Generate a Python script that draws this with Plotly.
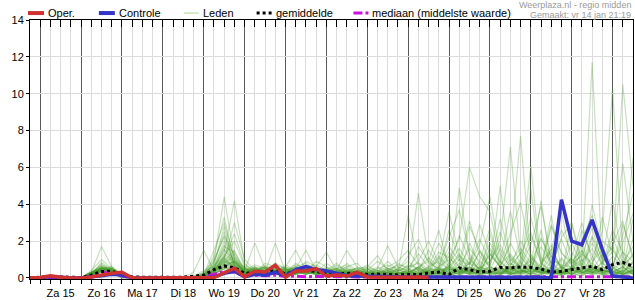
import plotly.graph_objects as go

# time axis: hours since vr 14 jan 18:00, 6-hourly steps
hours = list(range(0, 355, 6))
day_labels = ["Za 15", "Zo 16", "Ma 17", "Di 18", "Wo 19", "Do 20", "Vr 21",
              "Za 22", "Zo 23", "Ma 24", "Di 25", "Wo 26", "Do 27", "Vr 28"]
label_hours = [18 + 24 * k for k in range(len(day_labels))]

# layout of each series: i0 | Za15 | Zo16 | Ma17 | Di18 | Wo19 | Do20 | Vr21 | Za22 | Zo23 | Ma24 | Di25 | Wo26 | Do27 | Vr28 | Za29(3)
oper = [0, .02, .12, .03, 0, 0, .05, .15, .25, .3, 0, 0, 0, 0, 0, 0, 0,
        0, .02, .28, .52, .06, .36, .32, .68, .04, .37, .38, .5, .1, .15, .1, .3,
        .05, .04, .03, .04, .03, .05, .02]

controle = [0, 0, .08, .02, 0, 0, .05, .12, .2, .15, 0, 0, 0, 0, 0, 0, 0,
            0, .05, .25, .36, .05, .2, .15, .3, .1, .45, .62, .45, .38, .25, .12, .1,
            .08, .07, .06, .06, .05, .05, .04, .03, .03, .03, .04, .03, .03, .04, .03, .03,
            .04, .03, 0, 4.25, 2.0, 1.8, 3.15, 1.55, .1, .05, 0]

gemiddelde = [0, .02, .08, .05, .03, .02, .15, .35, .36, .2, .05, .04, .05, .03, .03, .04, .1,
              .15, .45, .65, .55, .25, .28, .3, .4, .22, .35, .4, .35, .25, .2, .25, .25,
              .18, .21, .18, .16, .18, .18, .27, .32, .18, .54, .45, .32, .36, .57, .54, .59,
              .57, .48, .32, .36, .45, .54, .63, .45, .72, .84, .63]

mediaan = [0, 0, .03, 0, 0, 0, .1, .28, .3, .1, 0, 0, 0, 0, 0, 0, 0,
           .05, .2, .35, .3, .12, .15, .12, .15, .08, .1, .06, .08, .06, .05, .06, .05,
           .04, .05, .04, .05, .05, .06, .05, .07, .06, .08, .07, .06, .07, .08, .06, .07,
           .08, .07, .06, .07, .08, .07, .06, .07, .08, .07, .06]

leden = [
    [0, 0, .1, 0, 0, 0, .3, 1.7, .6, .1, 0, 0, 0, 0, 0, 0, 0, .1, .9, 4.4, 1.1, .2, .5, .3, .6, .2, .4, .5, .3, .1, .2, .1, .3, .1, 0, 0, .1, .2, .6, .3, .1, .4, .2, .9, .5, .2, .1, .6, .3, 1.1, .4, .2, .3, .5, 1.8, .6, .2, .1, .3, .9],
    [0, 0, .05, 0, 0, 0, .4, 1.0, .5, .1, 0, 0, 0, 0, 0, 0, 0, .3, .6, 2.0, .8, .4, .3, .6, .4, .1, .5, .3, .2, .2, .4, .3, .1, 0, .1, .2, 0, .1, .3, .1, .5, .2, .8, .3, .1, 0, .4, 1.2, .5, .3, .1, .6, 2.1, .7, .3, .2, .1, .5, 1.4, .4],
    [0, 0, .1, .05, 0, 0, .2, .85, .4, .1, 0, 0, .05, 0, 0, 0, 0, .1, .4, 1.2, 2.0, .6, .2, .4, .3, .5, .2, .6, .4, .2, .1, .3, .2, .1, 0, 0, .2, .5, .1, 0, .2, .6, 1.3, .4, .2, 1.5, .6, .2, .9, .3, .6, 1.8, .4, .2, .1, .5, .3, 0, .2, .1],
    [0, 0, .05, 0, 0, 0, .2, .75, .3, 0, 0, 0, 0, 0, 0, 0, .1, .2, .5, 1.0, .6, .3, .6, .2, .5, .3, .6, .2, .5, .1, .3, .5, .2, .3, .2, .1, 0, 0, .2, .4, .1, .8, .3, 1.9, .7, .2, .9, .3, .1, 0, .5, .2, .1, .4, 2.6, 1.2, .3, .2, .4, .6],
    [0, 0, 0, 0, 0, 0, .3, .6, .4, .1, 0, 0, 0, 0, 0, 0, 0, 0, .3, .8, 1.3, .2, .4, .5, .2, .6, .3, .2, .4, .2, 0, .1, .3, .2, .1, 0, 0, .1, 0, .2, .3, .1, .5, .2, .4, .3, .1, .8, .4, .2, .3, .1, .5, 1.0, .6, 4.0, 1.5, .3, .2, .4],
    [0, 0, .1, 0, 0, 0, .1, .6, .5, .2, 0, 0, 0, 0, 0, 0, 0, 0, .2, .6, .9, .4, .2, .3, .8, .2, .3, .7, .4, .3, .2, 0, .1, 0, .2, .4, .1, 0, .1, 0, .4, 1.2, .3, .2, .6, .4, 1.6, .5, .2, .8, .3, .2, 1.0, .3, .1, .4, .8, 1.7, .6, .2],
    [0, 0, 0, .05, 0, 0, .2, .5, .3, 0, .05, 0, 0, 0, 0, 0, .3, 1.5, .4, .6, .3, .1, .3, .2, .4, .3, .2, .3, .2, .4, .2, .1, .2, 0, .1, .3, .2, .1, .4, .1, 0, .2, .1, .4, .2, .6, .3, .2, .4, .1, .2, .9, .3, .2, .5, .3, .6, .2, .1, .3],
    [0, 0, .05, 0, 0, 0, .3, .5, .4, .1, 0, 0, 0, 0, 0, 0, 0, .1, 1.2, 3.3, .9, .3, .4, .2, .3, .4, .6, .3, .2, .1, .2, .3, .1, .2, 0, .1, .3, .2, .1, .5, .2, .1, .3, .2, .1, .5, .2, .3, .6, .4, 2.2, .8, .3, .1, .3, .2, .9, 1.4, 6.2, 2.0],
    [0, 0, .1, 0, 0, 0, .2, .45, .5, .1, 0, 0, 0, 0, 0, 0, 0, .2, .7, 2.8, .6, .5, .3, .6, .2, .3, .4, .2, .5, .3, .1, .2, .4, .1, .3, .2, 0, .1, .2, .3, 1.1, .4, .2, .6, .3, 2.4, .5, .3, .2, .6, .3, .2, .4, .9, .3, .5, .2, .1, .4, .8],
    [0, 0, 0, 0, 0, 0, .2, .4, .3, .05, 0, 0, 0, 0, 0, 0, 0, 0, .5, 1.5, 1.0, .3, .2, .4, .3, .2, .3, .4, .3, .2, .3, .2, .1, .3, .1, 0, .2, .4, .2, .1, .3, .1, .6, .3, .2, .3, .4, .2, .1, .5, .3, 1.2, .6, .2, .4, 1.1, 2.5, 10.3, 1.2, .3],
    [0, 0, .05, 0, 0, 0, .3, .5, .6, .2, 0, 0, 0, 0, 0, 0, .1, .4, .6, 1.4, 4.2, .8, .3, .2, .4, .3, .2, .5, .6, .3, .2, .4, .2, .1, .2, .1, .3, .2, .5, .2, .1, .3, .2, 1.1, .4, .2, .3, .4, 1.4, .6, .2, .3, .1, .4, .2, .6, .3, .2, .5, 1.3],
    [0, 0, .05, 0, 0, 0, .25, .55, .35, .1, 0, 0, 0, 0, 0, 0, 0, .2, .3, 1.0, 3.0, 1.0, .4, .5, .2, .4, .3, .2, .4, .5, .3, .2, .1, 0, .2, .3, .2, .3, .6, .2, .3, .2, .5, .2, .9, .4, .2, .6, .3, .7, .3, .4, .2, .6, 1.0, .3, .4, .3, .6, .2],
    [0, 0, .1, 0, 0, 0, .3, .6, .3, .1, 0, 0, 0, 0, 0, 0, 0, .1, .4, .9, .7, .4, 1.9, .5, .3, .2, .4, .3, .5, .2, .4, .3, .2, .1, 0, .2, .1, .2, .1, .3, .2, .7, .2, .4, .1, .3, .5, .2, .4, .2, .6, .3, 1.1, .5, .2, .7, .3, 1.2, 10.5, 5.0],
    [0, 0, 0, 0, 0, 0, .2, .5, .4, .1, .05, 0, 0, 0, 0, 0, 0, .2, .5, 1.1, .5, .2, .4, .3, 1.9, .3, .2, .6, .3, .4, .2, .1, .3, .2, .1, 0, 0, .1, .3, .2, .5, .3, 1.0, .2, .4, .6, .3, .5, .2, 1.3, .4, .2, .3, .5, .3, 2.2, .6, .4, .2, .3],
    [0, 0, .05, 0, 0, 0, .1, .35, .45, .1, 0, 0, 0, 0, 0, 0, 0, 0, .2, .7, .9, .3, .5, .4, .3, .6, 1.5, .4, .2, .3, .5, .2, .1, .3, .2, .1, .2, 0, .2, .1, .3, .5, .4, .3, .2, .4, .2, 1.0, .5, .2, .8, .3, .2, 3.0, .5, .3, .2, .4, .2, .5],
    [0, 0, .1, 0, 0, 0, .2, .4, .5, .1, 0, 0, 0, 0, 0, 0, 0, .1, .3, .8, 1.1, .5, .3, .6, .4, .2, .5, 1.5, .4, .2, .1, .3, .2, .1, .3, .2, 0, .3, .1, .2, .1, .2, .1, .6, .3, .2, .3, .4, .8, .3, 2.6, .4, .2, .6, .3, .4, 1.3, .2, .3, .6],
    [0, 0, 0, 0, 0, 0, .15, .4, .3, 0, 0, 0, 0, 0, 0, 0, 0, 0, .4, 1.0, .6, .2, .6, .2, .5, .4, .3, .5, .6, 1.4, .4, .2, .3, .2, .1, .3, .2, .4, .2, .6, .3, .1, .4, .2, .3, 1.3, .6, .2, .3, .1, .2, .5, .4, .3, .6, .2, .4, .7, .4, 3.2],
    [0, 0, .05, 0, 0, 0, .3, .45, .5, .15, 0, 0, 0, 0, 0, 0, 0, .2, .4, .9, 1.5, .3, .2, .4, .6, .4, .2, .3, .5, .3, .4, 1.5, .6, .3, .2, .1, .3, .2, .4, .3, .2, .5, .3, .8, .2, .3, .2, .4, .6, .9, .4, .3, .2, .3, 1.5, .3, .2, .5, .3, .8],
    [0, 0, .1, 0, 0, 0, .25, .5, .35, .1, 0, 0, 0, 0, 0, 0, 0, .1, .3, 1.2, .8, .4, .5, .3, .2, .3, .4, .2, .3, .2, .3, .4, .5, .6, 1.2, .4, .2, .3, .5, .2, .6, .3, .2, .5, .4, .2, .6, .3, .2, .4, .3, 1.6, .5, .2, .4, .3, .6, 2.2, .8, .3],
    [0, 0, .05, 0, 0, 0, .2, .3, .4, .1, 0, 0, 0, 0, 0, 0, 0, 0, .2, .5, .7, .3, .2, .5, .3, .2, .4, .3, .2, .1, .2, .4, .3, .2, .5, 1.74, .6, .3, .2, .4, .3, .4, .6, .3, 1.5, .5, .3, .2, .4, .2, .5, .3, .4, 1.1, .3, .2, .4, .3, .2, .4],
    [0, 0, 0, 0, 0, 0, .1, .35, .3, .05, 0, 0, 0, 0, 0, 0, 0, .1, .5, 1.6, .6, .2, .3, .4, .2, .3, .2, .4, .3, .2, .1, .2, .4, .3, .2, .4, .3, 3.4, .8, .3, .5, .2, 4.9, 1.2, .4, .3, .5, .2, .3, .5, .2, .4, .3, .2, .5, .4, .3, .6, .2, .4],
    [0, 0, .05, 0, 0, 0, .2, .4, .45, .1, 0, 0, 0, 0, 0, 0, 0, .1, .2, .6, .8, .5, .3, .2, .4, .3, .6, .3, .4, .2, .3, .2, .1, .2, .3, .5, .4, .6, 4.6, 1.0, .3, .2, .4, .3, .6, .4, .2, .5, .3, 4.85, .6, .3, .2, .5, .2, .3, .6, .4, .3, .2],
    [0, 0, .1, 0, 0, 0, .2, .45, .3, .1, 0, 0, 0, 0, 0, 0, 0, 0, .3, .9, .5, .2, .4, .6, .3, .5, .3, .4, .2, .3, .6, .3, .2, .4, .2, .3, .5, .2, .6, .9, 2.6, .5, .3, .4, .2, .3, .2, .6, .4, .3, .5, .2, .6, .4, .8, .3, .2, .6, .3, .9],
    [0, 0, .05, 0, 0, 0, .3, .4, .35, .1, 0, 0, 0, 0, 0, 0, 0, .1, .4, .8, .6, .3, .2, .4, .5, .2, .3, .6, .4, .5, .2, .3, .4, .3, .1, .2, .4, .5, .3, .6, .9, 3.6, 1.2, .4, .3, .6, .4, .3, .5, .2, .4, .6, .3, .5, .9, 11.7, .8, .3, .2, .4],
    [0, 0, .1, 0, 0, 0, .2, .3, .4, .1, 0, 0, 0, 0, 0, 0, 0, .2, .3, .7, .5, .3, .4, .2, .3, .4, .5, .3, .2, .2, .3, .5, .3, .4, .2, .3, .1, .3, .5, .4, .6, 1.0, 2.1, 6.0, 4.4, 3.6, .9, .4, .3, .4, .3, .5, .2, .6, .4, .3, .5, .2, .4, .3],
    [0, 0, 0, 0, 0, 0, .15, .3, .35, .05, 0, 0, 0, 0, 0, 0, 0, 0, .2, .6, .4, .2, .3, .5, .3, .2, .4, .3, .5, .3, .2, .4, .2, .3, .4, .2, .3, .2, .3, .5, .4, .6, .3, .8, .5, .9, 2.0, 7.1, 1.2, .5, .3, .4, .2, .6, .3, .5, .4, .3, .2, .5],
    [0, 0, .05, 0, 0, 0, .25, .35, .3, .1, 0, 0, 0, 0, 0, 0, 0, .1, .2, .5, .6, .3, .2, .3, .5, .4, .3, .2, .4, .2, .4, .3, .5, .2, .3, .4, .2, .4, .2, .3, .5, .3, .6, .4, 1.4, .6, 5.0, .8, .4, .3, .6, 3.4, .5, .2, .4, .6, .3, .5, .3, .4],
    [0, 0, .1, 0, 0, 0, .3, .4, .25, .1, 0, 0, 0, 0, 0, 0, 0, 0, .4, 1.1, .7, .4, .3, .2, .4, .3, .2, .5, .3, .4, .3, .2, .3, .5, .2, .3, .4, .3, .6, .2, .4, .5, .3, .6, .4, 1.3, .6, 1.8, 7.7, .9, .4, .3, .6, .3, .5, .8, .4, .3, .6, .2],
    [0, 0, .05, 0, 0, 0, .2, .5, .3, .1, 0, 0, 0, 0, 0, 0, 0, .1, .3, .7, .9, .2, .5, .3, .2, .5, .3, .4, .3, .3, .5, .2, .4, .3, .2, .5, .3, .2, .4, .3, .5, .4, .2, .5, .3, .4, .6, .3, 1.0, 6.1, .8, .4, .3, .2, .6, .4, .3, .5, .8, .6],
    [0, 0, .05, 0, 0, 0, .2, .35, .4, .1, 0, 0, 0, 0, 0, 0, 0, 0, .2, .5, .4, .3, .2, .4, .3, .2, .3, .4, .2, .3, .2, .4, .3, .2, .4, .3, .2, .3, .2, .4, .3, .6, .4, .3, .5, .3, .4, .5, .3, .6, 4.2, .5, .3, .4, .3, .5, .4, .3, .6, 6.5],
    [0, 0, .05, 0, 0, 0, .2, .55, .4, .1, 0, 0, 0, 0, 0, 0, 0, .1, .6, 1.8, .7, .3, .5, .2, .4, .3, .2, .6, .5, .4, .8, .3, .2, .5, .3, .9, .4, 1.2, 2.1, .8, .5, 1.4, .6, 2.8, 1.5, .7, 3.2, 1.1, .6, 2.3, .9, 1.5, 3.6, .8, 1.2, 2.7, .9, 1.8, 3.1, 1.0],
    [0, 0, .1, 0, 0, 0, .3, .65, .35, .1, 0, 0, 0, 0, 0, 0, 0, .2, .9, 2.3, 1.2, .5, .3, .7, .4, .2, .8, .4, .3, .5, .3, .6, .8, .3, .6, .2, .5, .9, .4, 1.5, .7, 2.2, 3.7, 1.3, .6, 1.9, .8, 2.4, 4.1, 1.2, .6, 2.9, 1.4, .7, 2.0, 3.4, 1.1, .6, 2.3, 4.6],
    [0, 0, .05, 0, 0, 0, .15, .45, .5, .15, 0, 0, 0, 0, 0, 0, 0, .1, .4, 1.3, .9, .6, .4, .3, .7, .5, .3, .9, .6, .2, .5, .7, .3, .6, .4, .3, .8, .5, 1.3, .6, 1.9, .8, 1.6, .7, 2.9, 1.3, .6, 1.9, .8, 3.3, 1.1, .6, 2.2, 3.0, .9, 1.6, .7, 2.6, 1.4, .9],
    [0, 0, .1, 0, 0, 0, .25, .5, .3, .1, 0, 0, 0, 0, 0, 0, .05, .3, 1.0, 2.2, .8, .4, .7, .5, .3, .6, .4, .3, .9, .6, .3, .2, .6, .4, .9, .5, .3, .7, .5, 1.1, .6, 1.7, .9, 3.1, 1.2, .6, 2.5, .9, 1.6, .8, 2.1, 1.2, .5, 1.9, .7, 2.3, 1.0, 4.2, .8, 1.7],
    [0, 0, .05, 0, 0, 0, .2, .4, .45, .1, 0, 0, 0, 0, 0, 0, 0, 0, .5, 1.7, 1.4, .5, .3, .8, .6, .4, .7, .5, .3, .8, .4, .6, .2, .3, .5, .7, .4, .3, 1.7, .9, .5, 2.6, 1.0, .7, 1.8, 4.4, 1.3, .6, 2.0, 1.1, .5, 2.8, 1.3, .9, 1.5, .6, 3.3, 1.2, .5, 2.1],
    [0, 0, .1, 0, 0, 0, .2, .6, .4, .1, 0, 0, 0, 0, 0, 0, 0, .1, .7, 1.1, 2.4, .7, .4, .3, .5, .3, .6, .8, .4, .3, .7, .4, .5, .2, .4, .6, .9, 1.5, .7, .4, 1.2, .6, 2.3, 1.0, .5, 1.6, .9, 3.6, 1.1, .5, 1.7, .8, 2.6, 1.4, .6, 1.9, .8, .5, 2.9, 1.2],
    [0, 0, .05, 0, 0, 0, .3, .7, .5, .1, 0, 0, 0, 0, 0, 0, 0, .2, 1.5, 3.0, 1.0, .4, .6, .4, .8, .5, .3, .6, .7, .4, .5, .3, .4, .7, .3, .5, .6, .4, .9, 2.0, .8, .5, 1.2, .8, 2.1, .9, 1.8, .7, 1.3, 2.5, .8, 1.4, .6, 1.1, 3.0, .9, 1.5, .7, 1.9, 3.5],
    [0, 0, .1, 0, 0, 0, .2, .5, .6, .15, 0, 0, 0, 0, 0, 0, 0, .1, .8, 2.5, .7, .3, .5, .6, .3, .7, .4, .5, .3, .6, .3, .8, .4, .5, .2, .4, .7, .6, .8, .5, 1.4, 1.1, .6, 1.6, .9, 2.7, .7, 1.3, .6, 1.8, 3.9, 1.0, .7, .6, 1.3, .8, 2.0, 1.5, .7, 1.2],
]

RED = "#d03232"
BLUE = "#3434c8"
MAGENTA = "#cc11dd"
FONT = "Liberation Sans, Arial, sans-serif"

fig = go.Figure()
for m in leden:
    fig.add_trace(go.Scatter(x=hours[:len(m)], y=m, mode="lines",
                             line=dict(color="rgba(70,155,40,0.3)", width=1.2),
                             hoverinfo="skip"))
fig.add_trace(go.Scatter(x=hours[:len(mediaan)], y=mediaan, mode="lines",
                         line=dict(color=MAGENTA, width=3, dash="dashdot")))
fig.add_trace(go.Scatter(x=hours[:len(gemiddelde)], y=gemiddelde, mode="lines",
                         line=dict(color="black", width=3, dash="dot")))
# controle and oper live on the overlay x-axes (same range) so those axes get drawn
fig.add_trace(go.Scatter(x=hours[:len(controle)], y=controle, mode="lines", xaxis="x2",
                         line=dict(color=BLUE, width=3.5)))
fig.add_trace(go.Scatter(x=hours[:len(oper)], y=oper, mode="lines", xaxis="x3",
                         line=dict(color=RED, width=3.5)))

W, H = 635, 300
ML, MR, MT, MB = 30, 1, 20, 19
x_end = hours[-1]

def px_x(p):
    return (p - ML) / (W - ML - MR)

def px_y(p):
    return (H - MB - p) / (H - MT - MB)

# manual legend (layout decoration)
legend_items = [
    ("Oper.", 28, 44, dict(color=RED, width=4)),
    ("Controle", 99, 115, dict(color=BLUE, width=4)),
    ("Leden", 184, 199, dict(color="#b8dcaa", width=1.2)),
    ("gemiddelde", 257, 272, dict(color="black", width=3, dash="dot")),
    ("mediaan (middelste waarde)", 354, 369, dict(color=MAGENTA, width=3, dash="dashdot")),
]
shapes = []
annotations = []
for name, x0, x1, ln in legend_items:
    shapes.append(dict(type="line", xref="paper", yref="paper",
                       x0=px_x(x0), x1=px_x(x1), y0=px_y(13), y1=px_y(13), line=ln))
    annotations.append(dict(text=name, xref="paper", yref="paper", x=px_x(x1 + 2), y=px_y(13),
                            xanchor="left", yanchor="middle", showarrow=False,
                            font=dict(family=FONT, size=11, color="black")))
annotations.append(dict(text="Weerplaza.nl - regio midden", xref="paper", yref="paper",
                        x=px_x(634), y=px_y(4.5), xanchor="right", yanchor="middle", showarrow=False,
                        font=dict(family=FONT, size=9, color="#9a9a9a")))
annotations.append(dict(text="Gemaakt: vr 14 jan 21:19", xref="paper", yref="paper",
                        x=px_x(634), y=px_y(15), xanchor="right", yanchor="middle", showarrow=False,
                        font=dict(family=FONT, size=9, color="#9a9a9a")))

fig.update_layout(
    width=W, height=H,
    margin=dict(l=ML, r=MR, t=MT, b=MB, pad=0),
    paper_bgcolor="white", plot_bgcolor="white",
    showlegend=False,
    font=dict(family=FONT, size=11, color="black"),
    shapes=shapes, annotations=annotations,
    xaxis=dict(range=[0, x_end], tickmode="linear", tick0=6, dtick=24,
               showticklabels=False, showgrid=True, gridcolor="#5a5a5a", gridwidth=1,
               ticks="outside", ticklen=4, tickcolor="black", tickwidth=1,
               showline=True, linecolor="black", linewidth=1, mirror=True, zeroline=False,
               minor=dict(tickmode="linear", tick0=0, dtick=6, showgrid=True, gridcolor="#dcdcdc",
                          gridwidth=1, ticks="outside", ticklen=4, tickcolor="black")),
    xaxis2=dict(overlaying="x", anchor="y", side="bottom", range=[0, x_end],
                tickmode="array", tickvals=label_hours, ticktext=day_labels,
                showgrid=False, zeroline=False, showline=False,
                ticks="outside", ticklen=4, tickcolor="rgba(0,0,0,0)",
                tickfont=dict(family=FONT, size=11, color="black")),
    xaxis3=dict(overlaying="x", anchor="y", side="top", range=[0, x_end],
                tickmode="linear", tick0=0, dtick=6, showticklabels=False,
                showgrid=False, zeroline=False, showline=False,
                ticks="inside", ticklen=7, tickcolor="black", tickwidth=1),
    yaxis=dict(range=[-0.06, 14], tickmode="linear", tick0=0, dtick=2,
               showgrid=True, gridcolor="#dcdcdc", gridwidth=1, zeroline=False,
               ticks="outside", ticklen=3, tickcolor="black",
               showline=True, linecolor="black", linewidth=1, mirror=True,
               tickfont=dict(family=FONT, size=11, color="black")),
)

fig.write_html("out.html")
